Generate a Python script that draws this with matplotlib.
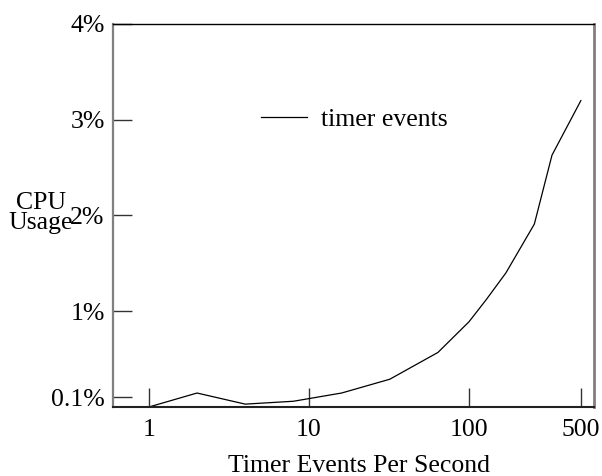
import matplotlib
matplotlib.use("Agg")
import matplotlib.pyplot as plt

# Data
rates = [1, 2, 4, 8, 16, 32, 64, 100, 128, 170, 256, 330, 500]
cpu_usage = [0.0, 0.146, 0.03, 0.06, 0.146, 0.29, 0.57, 0.89, 1.12, 1.40, 1.91, 2.63, 3.20]
xtick_vals = [1, 10, 100, 500]
xtick_labels = ["1", "10", "100", "500"]
ytick_vals = [0.1, 1, 2, 3, 4]
ytick_labels = ["0.1%", "1%", "2%", "3%", "4%"]
series_label = "timer events"

plt.rcParams['font.family'] = ['Liberation Serif', 'DejaVu Serif']
FS = 18.5

fig = plt.figure(figsize=(6.02, 4.76), dpi=100)
ax = fig.add_axes([113/602, 1-407/476, (594-113)/602, (407-24)/476])

ax.plot(rates, cpu_usage, color='black', lw=0.9, label=series_label)
ax.set_xscale('log')
ax.set_xlim(0.597, 604)
ax.set_ylim(0, 4)
ax.minorticks_off()
ax.set_xticks(xtick_vals)
ax.set_xticklabels(xtick_labels, fontsize=FS)
ax.set_yticks(ytick_vals)
ax.set_yticklabels(ytick_labels, fontsize=FS)
ax.tick_params(axis='both', direction='in', length=14, width=1.0, color='#333333')
ax.tick_params(axis='x', pad=9)
ax.tick_params(axis='y', pad=6)

ax.spines['left'].set_color('#808080')
ax.spines['left'].set_linewidth(1.6)
ax.spines['right'].set_color('#808080')
ax.spines['right'].set_linewidth(2.0)
ax.spines['top'].set_color('black')
ax.spines['top'].set_linewidth(1.0)
ax.spines['bottom'].set_color('#222222')
ax.spines['bottom'].set_linewidth(1.5)

ax.set_xlabel("Timer Events Per Second", fontsize=FS)
ax.xaxis.label.set_va('top')
ax.xaxis.set_label_coords((359-113)/481, -(455-407)/383)
fig.text(41/602, 1-213/476, "CPU\nUsage", ha='center', va='center', fontsize=FS, linespacing=0.9)

leg = ax.legend(loc='center left', bbox_to_anchor=((261-113)/481, 1-(120-24)/383),
                frameon=False, fontsize=FS, handlelength=1.8, handletextpad=0.55,
                borderaxespad=0, borderpad=0)

fig.savefig("out.png", dpi=100)
